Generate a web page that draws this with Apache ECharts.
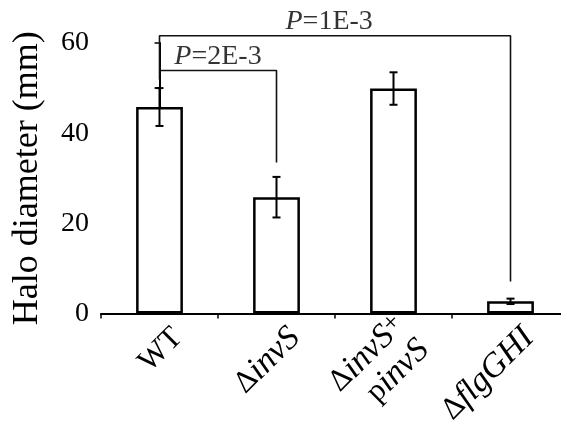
<!DOCTYPE html>
<html lang="en">
<head>
    <meta charset="utf-8" />
    <title>Halo diameter</title>
    <script type="text/javascript" src="https://cdn.jsdelivr.net/npm/echarts@6/dist/echarts.min.js"></script>
    <style type="text/css">
        html, body { margin: 0; padding: 0; background: #fff; }
    </style>
</head>
<body>
    <div id="main" style="width:561px;height:429px;"></div>

    <script type="text/javascript">
        var strains = ['WT', 'dinvS', 'dinvS_pinvS', 'dflgGHI'];
        var halo_mean = [45.8, 25.8, 49.9, 2.7];
        var halo_err = [4.2, 4.5, 3.6, 0.6];

        // significance brackets, x in category index units
        var bracket_a = [[0, 51.9], [0, 53.9], [1, 53.9], [1, 33.5]];
        var bracket_b = [[0, 53.9], [0, 61.6], [3, 61.6], [3, 7.1]];
        var p_labels = [[0.5, 53.9, '2E-3'], [1.45, 61.6, '1E-3']];

        var serif = '"Liberation Serif", "Times New Roman", serif';
        var myChart = echarts.init(document.getElementById('main'));

        var labelText = {
            'WT': 'WT',
            'dinvS': '{n|\u0394}{i|invS}',
            'dinvS_pinvS': '{n|\u0394}{i|invS}{s|+}\n{n|p}{i|invS}',
            'dflgGHI': '{n|\u0394}{i|flgGHI}'
        };

        var errData = [];
        for (var i = 0; i < strains.length; i++) {
            errData.push([i, halo_mean[i], halo_err[i]]);
        }

        var option = {
            animation: false,
            grid: { left: 101, top: 43, width: 468, height: 270.5, outerBoundsMode: 'none', containLabel: false },
            xAxis: [{
                type: 'category',
                data: strains,
                axisLine: { lineStyle: { color: '#000', width: 2 } },
                axisTick: { show: true, length: 5, lineStyle: { color: '#000', width: 1.5 } },
                axisLabel: {
                    interval: 0,
                    rotate: 45,
                    margin: 1,
                    padding: [52, 0, 0, 0],
                    color: '#000',
                    fontFamily: serif,
                    fontSize: 31,
                    formatter: function (v) { return labelText[v]; },
                    rich: {
                        n: { fontFamily: serif, fontSize: 31, color: '#000' },
                        i: { fontFamily: serif, fontSize: 34, fontStyle: 'italic', color: '#000' },
                        s: { fontFamily: serif, fontSize: 26, color: '#000', verticalAlign: 'top' }
                    }
                }
            }, {
                type: 'value',
                min: -0.5,
                max: 3.5,
                show: false
            }],
            yAxis: {
                type: 'value',
                min: 0,
                max: 60,
                interval: 10,
                name: 'Halo diameter (mm)',
                nameLocation: 'middle',
                nameRotate: 90,
                nameGap: 55,
                nameTextStyle: { fontFamily: serif, fontSize: 36, color: '#000' },
                axisLine: { show: true, lineStyle: { color: '#000', width: 2 } },
                axisTick: { show: true, length: 5, lineStyle: { color: '#000', width: 1.5 } },
                splitLine: { show: false },
                axisLabel: {
                    margin: 12,
                    color: '#000',
                    fontFamily: serif,
                    fontSize: 28,
                    formatter: function (v) { return v % 20 === 0 ? v : ''; }
                }
            },
            series: [{
                name: 'halo',
                type: 'bar',
                data: halo_mean,
                barWidth: '40%',
                itemStyle: { color: '#fff', borderColor: '#000', borderWidth: 2.5 }
            }, {
                name: 'err',
                type: 'custom',
                data: errData,
                encode: { x: 0, y: 1 },
                z: 5,
                renderItem: function (params, api) {
                    var x = api.value(0);
                    var hi = api.coord([x, api.value(1) + api.value(2)]);
                    var lo = api.coord([x, api.value(1) - api.value(2)]);
                    var w = 4;
                    var st = { stroke: '#000', lineWidth: 2 };
                    return {
                        type: 'group',
                        children: [
                            { type: 'line', shape: { x1: hi[0], y1: hi[1], x2: lo[0], y2: lo[1] }, style: st },
                            { type: 'line', shape: { x1: hi[0] - w, y1: hi[1], x2: hi[0] + w, y2: hi[1] }, style: st },
                            { type: 'line', shape: { x1: lo[0] - w, y1: lo[1], x2: lo[0] + w, y2: lo[1] }, style: st }
                        ]
                    };
                }
            }, {
                name: 'bracketA',
                type: 'line',
                xAxisIndex: 1,
                data: bracket_a,
                symbol: 'none',
                clip: false,
                lineStyle: { color: '#111', width: 1.6 }
            }, {
                name: 'bracketB',
                type: 'line',
                xAxisIndex: 1,
                data: bracket_b,
                symbol: 'none',
                clip: false,
                lineStyle: { color: '#111', width: 1.6 }
            }, {
                name: 'pval',
                type: 'scatter',
                xAxisIndex: 1,
                data: p_labels,
                symbolSize: 0,
                clip: false,
                label: {
                    show: true,
                    position: 'top',
                    distance: 0,
                    formatter: function (p) { return '{i|P}{n|=' + p.value[2] + '}'; },
                    rich: {
                        n: { fontFamily: serif, fontSize: 28, color: '#000' },
                        i: { fontFamily: serif, fontSize: 28, fontStyle: 'italic', color: '#000' }
                    }
                }
            }]
        };
        myChart.setOption(option, true);
    </script>
</body>
</html>
